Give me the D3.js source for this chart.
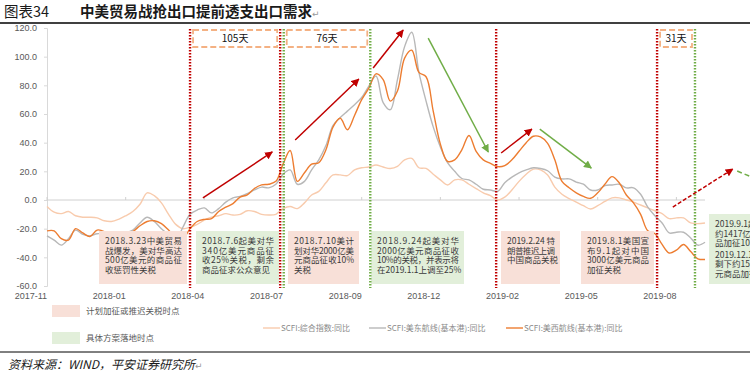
<!DOCTYPE html>
<html>
<head>
<meta charset="utf-8">
<script src="https://cdn.jsdelivr.net/npm/d3@7"></script>
<style>
  body { margin: 0; background: #fff; }
  svg { display: block; font-family: "Liberation Sans", Arial, sans-serif; }
</style>
</head>
<body>
<svg id="chart" width="750" height="381"></svg>
<script>
// weekly SCFI yoy (%), one point per week
const tickLabels = ["2017-11", "2018-01", "2018-04", "2018-07", "2018-09", "2018-12", "2019-02", "2019-05", "2019-08"]
const tickStep = 11
const yTicks = [-60, -40, -20, 0, 20, 40, 60, 80, 100, 120]

const composite = [
  -4.5, -8.5, -9.5, -8, -11, -12, -12, -12.5, -14.5, -15,
  -13.5, -11, -8, -3, 5, 3, -2, -10, -17, -20,
  -19, -17, -14, -12, -11, -9.5, -10.5, -10, -7.5, -8,
  -10, -10.5, -10, -6, -4.5, -6, -2, 3.5, 6, 12,
  17.5, 17.5, 17, 21, 22.5, 23, 24.4, 23, 22, 23.5,
  28, 29, 22.5, 22, 18, 14, 10.5, 14, 14, 11,
  8, 5, 3, 0, 2, 7, 13, 18, 21.5, 21,
  17.5, 9, 4, 1, -1.5, -4, -6.3, -4, -1, 1.5,
  1.5, 0, -1.5, -3.5, -5.5, -7.5, -9.5, -13, -12.5, -12.5,
  -16, -16.5, -16
]
const usEast = [
  -25, -28, -31.5, -27, -21, -24, -25, -23.5, -24, -26,
  -24.5, -23, -21, -16, -12, -15, -20, -24, -28, -19,
  -10, -7, -5.5, -9, -6, -1.5, 1.5, 2.5, 4.5, 7,
  9, 8.5, 11, 18, 21, 11, 13, 21, 28, 38,
  52, 57.5, 62, 66.5, 71.5, 79.5, 86.5, 68, 63, 84,
  107, 117, 89, 69, 51, 37, 26, 20, 15, 14,
  11, 7.5, 7, 6, 12, 16, 19, 21, 22.5, 22,
  20.4, 16, 14.7, 14.7, 12.5, 11, 7, 7, 10, 10.5,
  11, 8.5, 8.5, 4, -5, -11, -16, -23, -22.5, -22.5,
  -26.5, -31.5, -29.5
]
const usWest = [
  -21.5, -21.5, -27, -28, -20, -23, -25.5, -21, -22, -26,
  -25, -24, -22, -18, -15, -14.5, -16.5, -21, -26, -27,
  -20, -15, -13.5, -13, -8, -5, -2.5, 2, 3.5, 8,
  10.5, 11, 13, 25, 34.5, 13, 19, 25, 26, 35,
  51, 57, 49, 59, 70, 78, 88, 84, 69, 76,
  99, 104.5, 89, 86, 62, 39, 27, 28, 35, 45,
  34, 28, 25.6, 23.3, 24, 28, 34, 40, 44.5, 44,
  39.5, 28, 13, 8.5, 5, 2.5, 1.2, 5, 11, 16.3,
  12, 3.5, -2, -10, -21.5, -23.5, -31, -37, -35, -31,
  -36, -41, -41.5
]

// event lines, in week index
const planEvents = [20.0, 32.6, 62.8, 85.3]
const landEvents = [33.1, 45.2, 90.6]
const gapLabels = ["105天", "76天", "31天"]
const gapSpans = [[20.0, 32.6], [33.1, 45.2], [85.3, 90.6]]

// trend arrows: [i0, v0, i1, v1]
const redArrows = [[21.8, 1.4, 31.5, 33.5], [34.7, 41.9, 43.6, 84.4], [45.6, 92.1, 49.8, 118.6], [63.5, 32.8, 67.8, 49.5]]
const greenArrows = [[53.3, 113, 61.7, 33.5], [68.9, 49.5, 76.1, 22.3]]
const redDashArrow = [87.5, -4.9, 95.9, 21.6]
const greenDashLine = [96.5, 20.2, 98.8, 15.5]

const notes = [
  {x0: 99, x1: 187, y0: 231, fill: "#f8e0d8", lines: ["2018.3.23中美贸易", "战爆发，美对华高达", "500亿美元的商品征", "收惩罚性关税"]},
  {x0: 196, x1: 279, y0: 231, fill: "#e2efda", lines: ["2018.7.6起美对华", "340亿美元商品征", "收25%关税，剩余", "商品征求公众意见"]},
  {x0: 288, x1: 359, y0: 231, fill: "#f8e0d8", lines: ["2018.7.10美计", "划对华2000亿美", "元商品征收10%", "关税"]},
  {x0: 371, x1: 464, y0: 231, fill: "#e2efda", lines: ["2018.9.24起美对华", "2000亿美元商品征收", "10%的关税，并表示将", "在2019.1.1上调至25%"]},
  {x0: 501, x1: 560, y0: 231, fill: "#f8e0d8", lines: ["2019.2.24 特", "朗普推迟上调", "中国商品关税"]},
  {x0: 581, x1: 654, y0: 231, fill: "#f8e0d8", lines: ["2019.8.1美国宣", "布9.1起对中国", "3000亿美元商品", "加征关税"]},
  {x0: 709, x1: 790, y0: 214, fill: "#e2efda", lines: ["2019.9.1起美对", "约1417亿美元商", "品加征10%关税", "2019.12.15起对", "剩下约1500亿美", "元商品加征关税"]}
]

const RED = "#c00000", GREEN = "#70ad47"
const CJK = '"Noto Sans CJK SC", sans-serif'

const svg = d3.select("#chart")

const x = d3.scaleLinear().domain([0, composite.length - 1]).range([47, 705])
const y = d3.scaleLinear().domain([-60, 120]).range([286, 28])

// markers
const defs = svg.append("defs")
function marker(id, color) {
  defs.append("marker")
    .attr("id", id)
    .attr("markerUnits", "userSpaceOnUse")
    .attr("viewBox", "0 0 10 10")
    .attr("refX", 9).attr("refY", 5)
    .attr("markerWidth", 8).attr("markerHeight", 8)
    .attr("orient", "auto")
    .append("path")
    .attr("d", "M0,0 L10,5 L0,10 z")
    .attr("fill", color)
}
marker("ahRed", RED)
marker("ahGreen", GREEN)

// title
const title = svg.append("text").attr("x", 4).attr("y", 17).attr("font-family", CJK).attr("font-size", 14.5).attr("fill", "#1a1a1a")
title.append("tspan").text("图表34")
title.append("tspan").attr("x", 80).attr("font-weight", "bold").text("中美贸易战抢出口提前透支出口需求")
title.append("tspan").attr("font-family", "DejaVu Sans").attr("font-size", 9).attr("fill", "#999").text("↵")

svg.append("line").attr("x1", 0).attr("x2", 750).attr("y1", 23).attr("y2", 23)
  .attr("stroke", "#000").attr("stroke-width", 1.5)

// y axis
const yAxis = svg.append("g")
  .attr("transform", "translate(47,0)")
  .call(d3.axisLeft(y).tickValues(yTicks).tickSize(3).tickPadding(7).tickFormat(d => d.toFixed(1)))
yAxis.select(".domain").attr("stroke", "#d9d9d9")
yAxis.selectAll(".tick line").attr("stroke", "#d9d9d9")
yAxis.selectAll(".tick text").attr("fill", "#595959").attr("font-size", 9)

// zero line + category ticks
svg.append("line")
  .attr("x1", x(0)).attr("x2", x(composite.length - 1))
  .attr("y1", y(0)).attr("y2", y(0))
  .attr("stroke", "#d0d0d0").attr("stroke-width", 1)

svg.selectAll("xTick")
  .data(tickLabels)
  .enter()
  .append("line")
  .attr("x1", (d, i) => x(i * tickStep)).attr("x2", (d, i) => x(i * tickStep))
  .attr("y1", y(0)).attr("y2", y(0) - 3)
  .attr("stroke", "#d0d0d0")

svg.selectAll("xLabel")
  .data(tickLabels)
  .enter()
  .append("text")
  .attr("x", (d, i) => x(i * tickStep))
  .attr("y", 299)
  .attr("text-anchor", "end")
  .attr("font-size", 9)
  .attr("fill", "#595959")
  .text(d => d)

// series
const line = d3.line()
  .x((d, i) => x(i))
  .y(d => y(d))
  .curve(d3.curveCatmullRom.alpha(0.5))

const series = [
  {name: "SCFI:综合指数:同比", data: composite, color: "#f8cbad", lx: 263},
  {name: "SCFI:美东航线(基本港):同比", data: usEast, color: "#b8b8b8", lx: 369},
  {name: "SCFI:美西航线(基本港):同比", data: usWest, color: "#ed7d31", lx: 506}
]

svg.selectAll("series")
  .data(series)
  .enter()
  .append("path")
  .attr("d", d => line(d.data))
  .attr("fill", "none")
  .attr("stroke", d => d.color)
  .attr("stroke-width", 1.4)

// note boxes
notes.forEach(n => {
  const lh = 9.6
  const h = n.lines.length > 4 ? 70 : 53
  svg.append("rect")
    .attr("x", n.x0).attr("y", n.y0)
    .attr("width", n.x1 - n.x0).attr("height", h)
    .attr("fill", n.fill)
  const t = svg.append("text")
    .attr("font-family", CJK)
    .attr("font-size", 8.5)
    .attr("fill", "#3a3a3a")
  n.lines.forEach((s, k) => {
    const ts = t.append("tspan")
      .attr("x", n.x0 + 6)
      .attr("y", n.y0 + 13 + k * lh + (k > 2 && n.lines.length > 4 ? 2 : 0))
      .text(s)
    const last = k === n.lines.length - 1 && n.lines.length <= 4
    if (!last && n.x1 < 750) {
      ts.attr("textLength", n.x1 - n.x0 - 11).attr("lengthAdjust", "spacing")
    }
  })
})

// event lines
function vline(idx, color) {
  svg.append("line")
    .attr("x1", x(idx)).attr("x2", x(idx))
    .attr("y1", 29).attr("y2", 288)
    .attr("stroke", color)
    .attr("stroke-width", 2.4)
    .attr("stroke-dasharray", "1.6,1.4")
}
planEvents.forEach(d => vline(d, RED))
landEvents.forEach(d => vline(d, GREEN))

// gap boxes
gapSpans.forEach((s, k) => {
  const a = x(s[0]) + 3, b = x(s[1]) - 3
  svg.append("rect")
    .attr("x", a).attr("y", 30)
    .attr("width", b - a).attr("height", 17)
    .attr("fill", "#fff")
    .attr("stroke", "#f4b183")
    .attr("stroke-width", 1.8)
    .attr("stroke-dasharray", "6,3")
  svg.append("text")
    .attr("x", (a + b) / 2).attr("y", 42)
    .attr("text-anchor", "middle")
    .attr("font-family", CJK)
    .attr("font-size", 10)
    .attr("fill", "#111")
    .text(gapLabels[k])
})

// arrows
function arrow(a, color, mk, dash) {
  svg.append("line")
    .attr("x1", x(a[0])).attr("y1", y(a[1]))
    .attr("x2", x(a[2])).attr("y2", y(a[3]))
    .attr("stroke", color)
    .attr("stroke-width", 1.5)
    .attr("stroke-dasharray", dash || null)
    .attr("marker-end", mk ? `url(#${mk})` : null)
}
redArrows.forEach(a => arrow(a, RED, "ahRed"))
greenArrows.forEach(a => arrow(a, GREEN, "ahGreen"))
arrow(redDashArrow, RED, "ahRed", "4,2")
arrow(greenDashLine, GREEN, null, "5,3")

// legends
const marks = [
  {label: "计划加征或推迟关税时点", fill: "#f8e0d8", y: 305},
  {label: "具体方案落地时点", fill: "#e2efda", y: 332}
]
marks.forEach(m => {
  svg.append("rect").attr("x", 52).attr("y", m.y).attr("width", 28).attr("height", 12).attr("fill", m.fill)
  svg.append("text").attr("x", 86).attr("y", m.y + 9)
    .attr("font-family", CJK).attr("font-size", 8.5).attr("fill", "#595959")
    .text(m.label)
})

series.forEach(s => {
  svg.append("line")
    .attr("x1", s.lx).attr("x2", s.lx + 17)
    .attr("y1", 328).attr("y2", 328)
    .attr("stroke", s.color).attr("stroke-width", 1.4)
  svg.append("text")
    .attr("x", s.lx + 18).attr("y", 331)
    .attr("font-family", CJK).attr("font-size", 8)
    .attr("fill", "#8a8a8a")
    .text(s.name)
})

// source
svg.append("line").attr("x1", 0).attr("x2", 750).attr("y1", 352).attr("y2", 352)
  .attr("stroke", "#000").attr("stroke-width", 1)
const src = svg.append("text").attr("x", 8).attr("y", 369)
  .attr("font-family", CJK).attr("font-size", 12).attr("font-style", "italic").attr("fill", "#1a1a1a")
src.append("tspan").text("资料来源：WIND，平安证券研究所")
src.append("tspan").attr("font-family", "DejaVu Sans").attr("font-size", 9).attr("fill", "#999").text("↵")
</script>
</body>
</html>
